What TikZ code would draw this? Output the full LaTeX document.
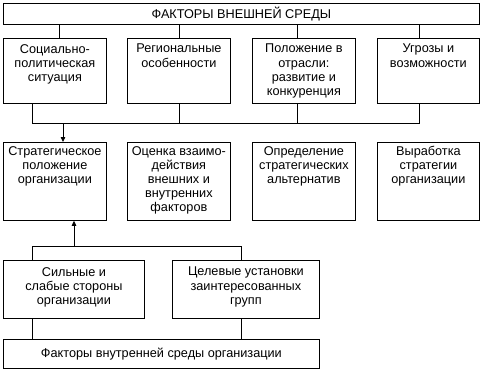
\documentclass[tikz,border=0pt]{standalone}
\usepackage{fontspec}
\setmainfont{Liberation Sans}
\usetikzlibrary{arrows.meta,positioning}

\begin{document}
\begin{tikzpicture}[x=1pt, y=-1pt,
  box/.style={draw, line width=0.8pt, inner sep=0pt, anchor=north west},
  txt/.style={align=center, inner sep=0pt, font=\fontsize{12.7}{14.2}\selectfont},
  line/.style={line width=0.8pt},
  arrow/.style={line width=0.8pt, -{Triangle[length=5pt, width=4.5pt]}},
]
  \useasboundingbox (0,0) rectangle (481,370);

  % external factors
  \node[box, minimum width=476, minimum height=21] (ext) at (3,3) {};
  \node[txt] (ext-t) at (ext.center) {ФАКТОРЫ ВНЕШНЕЙ СРЕДЫ};

  \node[box, minimum width=103, minimum height=65] (soc) at (3,38) {};
  \node[box, minimum width=103, minimum height=65] (reg) at (127,38) {};
  \node[box, minimum width=103, minimum height=65] (otr) at (252,38) {};
  \node[box, minimum width=102, minimum height=65] (ugr) at (377,38) {};
  \node[txt, below=6pt of soc.north] (soc-t) {Социально-\\политическая\\ситуация};
  \node[txt, below=6pt of reg.north] (reg-t) {Региональные\\особенности};
  \node[txt, below=6pt of otr.north] (otr-t) {Положение в\\отрасли:\\развитие и\\конкуренция};
  \node[txt, below=6pt of ugr.north] (ugr-t) {Угрозы и\\возможности};

  % strategy
  \node[box, minimum width=103, minimum height=78] (strat) at (3,142) {};
  \node[box, minimum width=103, minimum height=78] (ocen) at (127,142) {};
  \node[box, minimum width=103, minimum height=78] (opr) at (252,142) {};
  \node[box, minimum width=102, minimum height=78] (vyr) at (377,142) {};
  \node[txt, below=4pt of strat.north] (strat-t) {Стратегическое\\положение\\организации};
  \node[txt, below=4pt of ocen.north] (ocen-t) {Оценка взаимо-\\действия\\внешних и\\внутренних\\факторов};
  \node[txt, below=4pt of opr.north] (opr-t) {Определение\\стратегических\\альтернатив};
  \node[txt, below=4pt of vyr.north] (vyr-t) {Выработка\\стратегии\\организации};

  % internal factors
  \node[box, minimum width=141, minimum height=58] (sil) at (3,260) {};
  \node[box, minimum width=147, minimum height=58] (cel) at (172,260) {};
  \node[txt, below=7pt of sil.north] (sil-t) {Сильные и\\слабые стороны\\организации};
  \node[txt, below=7pt of cel.north] (cel-t) {Целевые установки\\заинтересованных\\групп};
  \node[box, minimum width=316, minimum height=29] (int) at (3,339) {};
  \node[txt] (int-t) at (int.center) {Факторы внутренней среды организации};

  % connectors
  \coordinate (c1) at (59.5,0);
  \coordinate (c3) at (297,0);
  \coordinate (c4) at (419,0);
  \draw[line] (ext.south -| c1) -- (soc.north -| c1);
  \draw[line] (ext.south -| reg) -- (reg.north);
  \draw[line] (ext.south -| c3) -- (otr.north -| c3);
  \draw[line] (ext.south -| c4) -- (ugr.north -| c4);

  \coordinate (busE) at (32,123);
  \coordinate (busE') at (419,123);
  \coordinate (in) at (63,123);
  \draw[line] (soc.south -| busE) -- (busE) -- (busE') -- (ugr.south -| busE');
  \draw[line] (reg.south) -- (reg.south |- busE);
  \draw[line] (otr.south -| c3) -- (busE -| c3);
  \draw[arrow] (in) -- (in |- strat.north);

  \coordinate (busI) at (32,246);
  \coordinate (busI') at (241,246);
  \coordinate (out) at (74,246);
  \draw[line] (sil.north -| busI) -- (busI) -- (busI') -- (cel.north -| busI');
  \draw[arrow] (out) -- (out |- strat.south);
  \draw[line] (sil.south -| busI) -- (int.north -| busI);
  \draw[line] (cel.south -| busI') -- (int.north -| busI');
\end{tikzpicture}
\end{document}
